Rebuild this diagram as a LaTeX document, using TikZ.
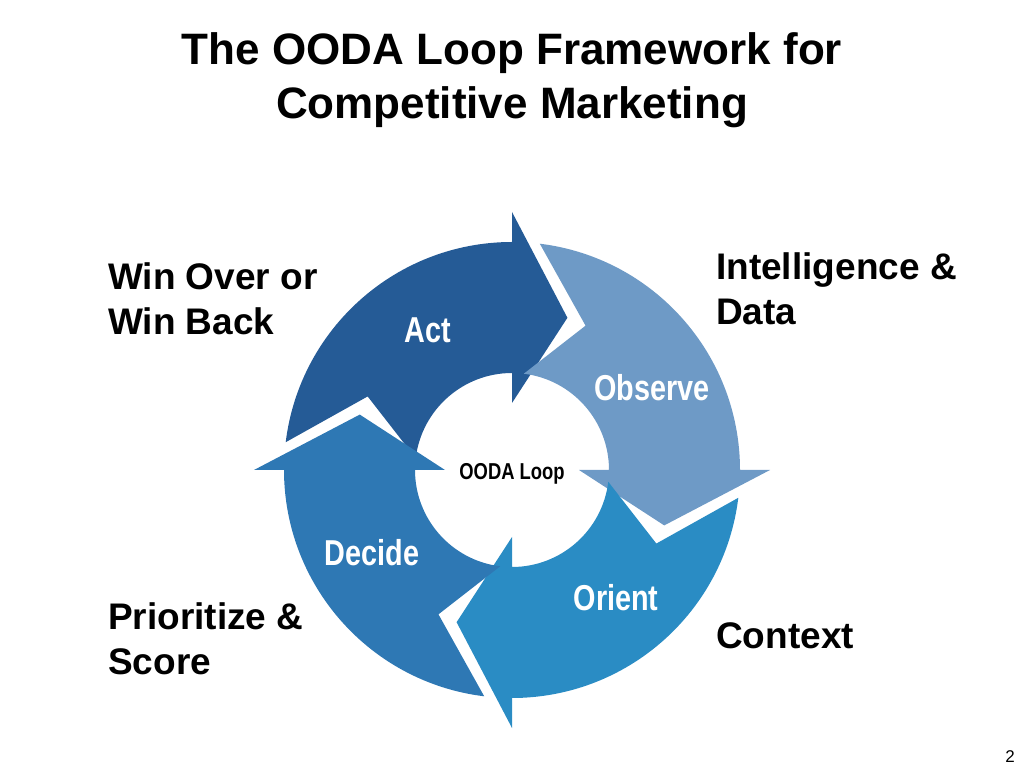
\documentclass[tikz,border=0pt]{standalone}
\usepackage{fontspec}
\setmainfont{Liberation Sans}
\begin{document}
\begin{tikzpicture}[x=1pt,y=1pt,
  lbl/.style={text=white,font=\fontsize{36}{36}\selectfont\bfseries},
  side/.style={align=left,anchor=north west,inner sep=0pt,font=\fontsize{37}{45}\selectfont\bfseries},
  ttl/.style={font=\fontsize{44}{54}\selectfont\bfseries,align=center}]
\useasboundingbox (0,0) rectangle (1024,768);
\definecolor{cAct}{HTML}{255B96}
\definecolor{cObs}{HTML}{6E9AC6}
\definecolor{cOri}{HTML}{2A8CC4}
\definecolor{cDec}{HTML}{2E78B4}
\def\Ro{228}\def\Ri{97}\def\Rm{162}\def\Rho{258}\def\Rhi{67}
\begin{scope}[shift={(512,298)}]
\foreach \s/\b/\c in {173/90/cAct, 83/0/cObs, -7/-90/cOri, -97/-180/cDec}{
  \fill[\c] (\s:\Ro) arc[start angle=\s, end angle=\b, radius=\Ro]
    -- (\b:\Rho) -- ({\b-20}:\Rm) -- (\b:\Rhi) -- (\b:\Ri)
    arc[start angle=\b, end angle=\s, radius=\Ri] -- ({\s-20}:\Rm) -- cycle;
}
\end{scope}
\node[lbl] (act) at (428,438) {\scalebox{0.8}[1]{Act}};
\node[lbl] (obs) at (652,380) {\scalebox{0.8}[1]{Observe}};
\node[lbl] (ori) at (616,170) {\scalebox{0.8}[1]{Orient}};
\node[lbl] (dec) at (372,215) {\scalebox{0.8}[1]{Decide}};
\node[font=\fontsize{23}{23}\selectfont\bfseries] (ooda) at (512,294) {\scalebox{0.8}[1]{OODA Loop}};
\node[ttl] (title) at (512,688) {The OODA Loop Framework for\\Competitive Marketing};
\node[side] (win) at (108,506) {Win Over or\\Win Back};
\node[side] (intel) at (716,516) {Intelligence \&\\Data};
\node[side] (prio) at (108,166) {Prioritize \&\\Score};
\node[side] (ctx) at (716,146) {Context};
\node[font=\fontsize{17}{17}\selectfont] (pg) at (1010,11) {2};
\end{tikzpicture}
\end{document}
